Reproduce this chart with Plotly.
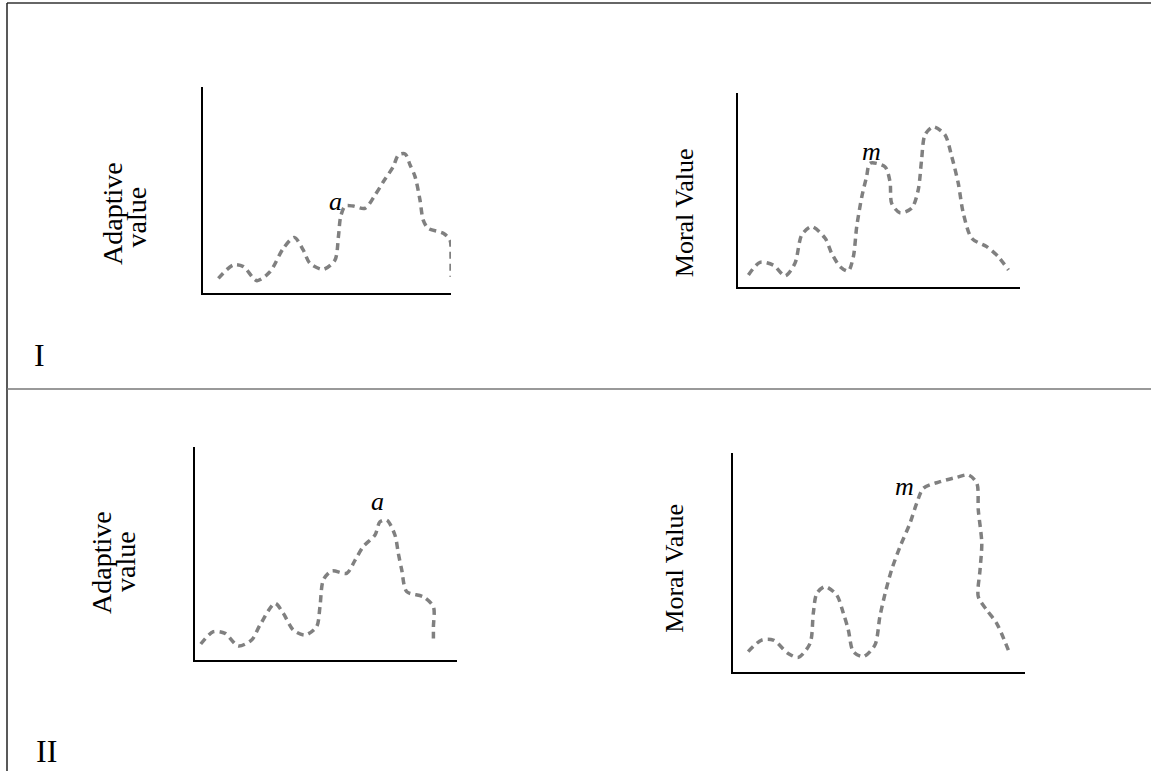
import plotly.graph_objects as go

W, H = 1151, 771

# ---- data (curve values in axis units, 0-100 on both axes) ----
p1_x = [6.2, 12.2, 16.3, 21.7, 27.0, 32.4, 36.8, 40.4, 43.1, 48.5, 53.2, 54.6, 55.5, 57.3, 60.6, 65.3,
        69.4, 72.7, 76.7, 78.8, 81.5, 83.5, 85.5, 87.5, 88.8, 90.8, 96.9, 99.6, 100.0, 100.0]
p1_y = [7.1, 13.6, 12.8, 6.0, 10.3, 21.7, 27.0, 20.9, 14.4, 11.5, 16.0, 27.3, 37.0, 42.2, 42.2, 41.1,
        47.6, 54.0, 61.3, 67.0, 67.5, 62.1, 56.5, 45.1, 35.4, 31.4, 29.0, 25.7, 17.6, 7.9]

p2_x = [3.7, 7.8, 12.5, 16.7, 20.2, 22.6, 26.1, 30.9, 33.2, 36.2, 39.1, 40.9, 42.1, 43.9, 45.6, 46.8,
        52.1, 53.9, 54.5, 57.4, 61.6, 63.9, 65.1, 66.3, 69.3, 73.4, 75.8, 78.1, 79.9, 82.9, 88.2, 92.3, 95.9]
p2_y = [6.2, 12.7, 11.3, 5.8, 12.2, 26.8, 31.1, 25.1, 17.4, 10.5, 8.2, 15.6, 31.1, 46.5, 56.9, 63.8,
        62.0, 54.3, 43.1, 38.3, 40.6, 50.0, 65.5, 78.4, 82.6, 78.4, 67.2, 53.5, 38.0, 25.1, 20.8, 15.6, 8.8]

p3_x = [2.2, 7.0, 11.5, 16.5, 21.6, 24.8, 30.5, 33.7, 37.5, 42.0, 46.4, 47.7, 49.0, 52.2, 57.9, 61.1,
        64.2, 68.7, 70.6, 73.2, 76.3, 77.6, 78.9, 80.8, 87.1, 91.0, 91.0, 91.0]
p3_y = [7.5, 13.3, 12.5, 6.6, 9.4, 16.4, 26.6, 21.9, 14.1, 11.7, 15.6, 25.0, 37.6, 41.8, 40.7, 46.9,
        53.2, 58.7, 64.9, 65.7, 58.7, 50.1, 42.3, 32.1, 29.7, 25.0, 15.6, 8.6]

p4_x = [5.2, 9.8, 13.8, 18.9, 22.4, 26.4, 27.5, 28.7, 31.5, 35.5, 37.8, 39.5, 41.2, 44.6, 48.6, 50.3,
        52.1, 54.3, 57.2, 60.6, 62.9, 65.2, 70.9, 76.6, 80.6, 83.5, 84.0, 85.2, 84.6, 84.0, 86.9, 90.3, 94.3]
p4_y = [9.3, 14.6, 14.6, 8.5, 6.7, 13.1, 26.8, 35.9, 39.0, 35.2, 26.8, 19.2, 9.3, 7.0, 12.3, 25.3,
        35.9, 46.6, 57.2, 67.9, 77.0, 83.9, 86.9, 88.9, 90.0, 86.2, 74.0, 58.8, 46.6, 34.4, 28.3, 22.2, 10.0]

curves = [(p1_x, p1_y), (p2_x, p2_y), (p3_x, p3_y), (p4_x, p4_y)]

peak_labels = ["a", "m", "a", "m"]
peak_label_x = [53.6, 47.5, 69.5, 58.9]
peak_label_y = [44.2, 69.6, 74.2, 84.9]

row_labels = ["I", "II"]

# ---- layout helpers (pixel -> paper) ----
def px(x):
    return x / W

def py(y):
    return 1 - y / H

# axis boxes in pixels: (left, right, top, bottom)
boxes = [(203, 451, 87, 293), (738, 1020, 93, 287), (195, 457, 447, 660), (733, 1025, 453, 672)]

fig = go.Figure()
layout_axes = {}
for i, ((cx, cy), (l, r, t, b)) in enumerate(zip(curves, boxes), start=1):
    xa = f"x{i}" if i > 1 else "x"
    ya = f"y{i}" if i > 1 else "y"
    fig.add_trace(go.Scatter(
        x=cx, y=cy, xaxis=xa, yaxis=ya, mode="lines",
        line=dict(color="#808080", width=3.5, dash="7px,5px", shape="spline", smoothing=0.8),
        hoverinfo="skip", showlegend=False, cliponaxis=False,
    ))
    axcommon = dict(showgrid=False, zeroline=False, showticklabels=False, ticks="",
                    showline=True, linecolor="black", linewidth=2, range=[0, 100], fixedrange=True)
    layout_axes[f"xaxis{i if i > 1 else ''}"] = dict(domain=[px(l), px(r)], anchor=ya, **axcommon)
    layout_axes[f"yaxis{i if i > 1 else ''}"] = dict(domain=[py(b), py(t)], anchor=xa, **axcommon)

fig.update_layout(**layout_axes)

serif = "Liberation Serif, Times New Roman, serif"
annotations = []
for i, (lab, lx, ly) in enumerate(zip(peak_labels, peak_label_x, peak_label_y), start=1):
    annotations.append(dict(
        text=lab, x=lx, y=ly, xref=f"x{i}" if i > 1 else "x", yref=f"y{i}" if i > 1 else "y",
        showarrow=False, font=dict(family=serif, size=26, color="black", style="italic"),
        xanchor="center", yanchor="middle"))

axis_titles = [
    ("Adaptive", 112, 214, 28), ("value", 136, 217.5, 28), ("Moral Value", 684.2, 213, 26),
    ("Adaptive", 101, 563, 28), ("value", 125, 562, 28), ("Moral Value", 674.2, 568.5, 26),
]
for txt, x, y, sz in axis_titles:
    annotations.append(dict(
        text=txt, x=px(x), y=py(y), xref="paper", yref="paper", showarrow=False, textangle=-90,
        font=dict(family=serif, size=sz, color="black"), xanchor="center", yanchor="middle"))

for txt, (x, y) in zip(row_labels, [(39, 355), (46, 751)]):
    annotations.append(dict(
        text=txt, x=px(x), y=py(y), xref="paper", yref="paper", showarrow=False,
        font=dict(family=serif, size=32, color="black"), xanchor="center", yanchor="middle"))

shapes = [
    dict(type="line", xref="paper", yref="paper", x0=px(7), x1=1, y0=py(3), y1=py(3),
         line=dict(color="#333333", width=1.5)),
    dict(type="line", xref="paper", yref="paper", x0=px(7), x1=px(7), y0=py(3), y1=0,
         line=dict(color="#222222", width=1.5)),
    dict(type="line", xref="paper", yref="paper", x0=px(7), x1=1, y0=py(389), y1=py(389),
         line=dict(color="#777777", width=1.5)),
]

fig.update_layout(
    width=W, height=H, margin=dict(l=0, r=0, t=0, b=0),
    paper_bgcolor="white", plot_bgcolor="white",
    annotations=annotations, shapes=shapes, showlegend=False,
)

fig.write_html("out.html", config={"displayModeBar": False},
               post_script="document.body.style.margin='0px';document.body.style.overflow='hidden';")
